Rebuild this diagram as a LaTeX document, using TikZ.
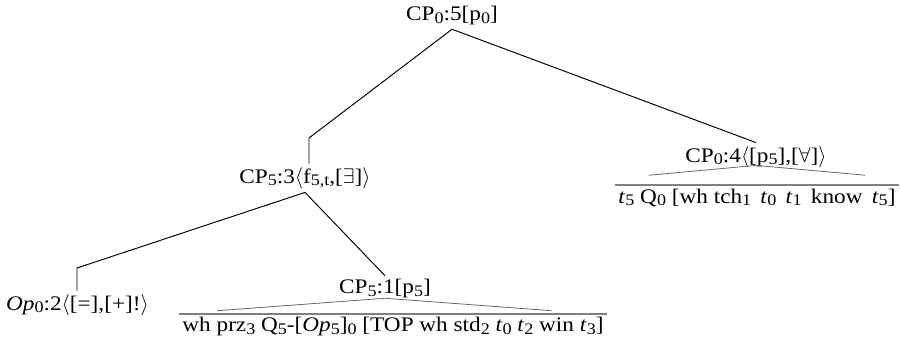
\documentclass[tikz,border=0pt]{standalone}
\usepackage{fontspec}
\setmainfont{Liberation Serif}[FakeStretch=1.12]
\usetikzlibrary{calc,positioning}
\newcommand{\sbx}[1]{\raisebox{-0.25ex}{\fontsize{9.2}{10}\selectfont #1}}

\begin{document}
\begin{tikzpicture}[font=\fontsize{11.8}{14}\selectfont, inner sep=2pt,
    branch/.style={line width=0.55pt},
    roof/.style={gray!80!black, line width=0.45pt},
    bar/.style={gray, line width=1.2pt}]
    		% Frame, 900 x 347 px at 50 px per cm
    		\useasboundingbox (0,0) rectangle (18,6.94);
    		
    		% Root
    		\node (root) at (9.04, 6.62) {CP\sbx{0}:5[p\sbx{0}]};
    		
    		% Right daughter with its yield
    		\node (cpFour) at (15.12, 3.80) {CP\sbx{0}:4$\langle$[p\sbx{5}],[$\forall$]$\rangle$};
    		\node (yieldFour) at (15.14, 2.98) {\textit{t}\sbx{5} Q\sbx{0} [wh tch\sbx{1} \,\textit{t}\sbx{0} \,\textit{t}\sbx{1} \,know \,\textit{t}\sbx{5}]};
    		
    		% Left daughter
    		\node (cpThree) at (6.10, 3.38) {CP\sbx{5}:3$\langle$f\sbx{5,t},[$\exists$]$\rangle$};
    		\coordinate (kinkThree) at (6.18, 4.18);
    		
    		% Its daughters
    		\node (opTwo) at (1.55, 0.84) {\textit{Op}\sbx{0}:2$\langle$[=],[+]!$\rangle$};
    		\coordinate (kinkTwo) at (1.54, 1.58);
    		\node (cpOne) at (7.70, 1.16) {CP\sbx{5}:1[p\sbx{5}]};
    		\node (yieldOne) at (7.86, 0.40) {wh prz\sbx{3} Q\sbx{5}-[\textit{Op}\sbx{5}]\sbx{0} [TOP wh std\sbx{2} \textit{t}\sbx{0} \textit{t}\sbx{2} win \textit{t}\sbx{3}]};
    		
    		% Branches
    		\draw[branch] (root.south) -- (kinkThree) -- (kinkThree |- cpThree.north);
    		\draw[branch] (root.south) -- (cpFour.north);
    		\draw[branch] (cpThree.south) -- (kinkTwo) -- (kinkTwo |- opTwo.north);
    		\draw[branch] (cpThree.south) -- (cpOne.north);
    		
    		% Roofs over the yields
    		\draw[bar] (yieldFour.north west) -- (yieldFour.north east);
    		\draw[roof] ($(yieldFour.north west)!0.12!(yieldFour.north east)+(0,0.20)$)
    		   -- ($(cpFour.south)+(0,0.12)$)
    		   -- ($(yieldFour.north west)!0.88!(yieldFour.north east)+(0,0.20)$);
    		\draw[bar] (yieldOne.north west) -- (yieldOne.north east);
    		\draw[roof] ($(yieldOne.north west)!0.09!(yieldOne.north east)+(0,0.06)$)
    		   -- ($(cpOne.south)+(0,0.08)$)
    		   -- ($(yieldOne.north west)!0.87!(yieldOne.north east)+(0,0.06)$);
    	\end{tikzpicture}
\end{document}
